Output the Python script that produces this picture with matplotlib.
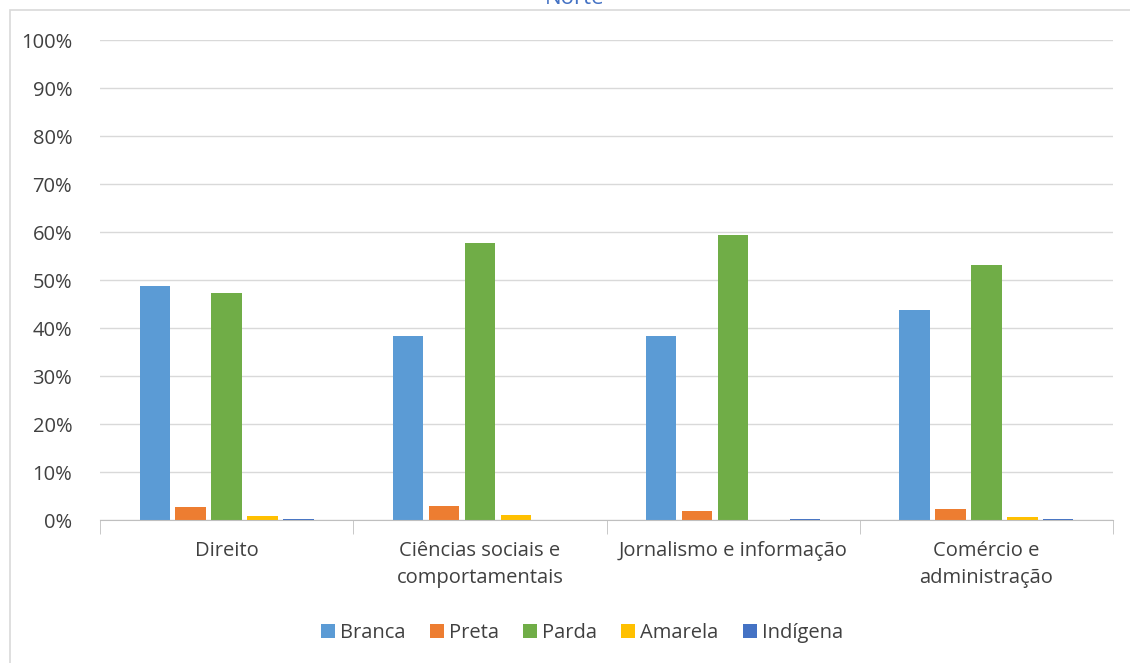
import numpy as np
import matplotlib.pyplot as plt
from matplotlib.patches import Rectangle
from matplotlib.ticker import FuncFormatter

plt.rcParams['font.family'] = ['Open Sans', 'DejaVu Sans']

categories = ['Direito', 'Ciências sociais e\ncomportamentais',
              'Jornalismo e informação', 'Comércio e\nadministração']
series = ['Branca', 'Preta', 'Parda', 'Amarela', 'Indígena']
branca = [48.8, 38.4, 38.4, 43.8]
preta = [2.8, 3.0, 1.9, 2.3]
parda = [47.2, 57.7, 59.4, 53.1]
amarela = [0.9, 1.0, 0.0, 0.6]
indigena = [0.3, 0.0, 0.3, 0.2]
colors = ['#5B9BD5', '#ED7D31', '#70AD47', '#FFC000', '#4472C4']

fig = plt.figure(figsize=(11.3, 6.63), dpi=100)
ax = fig.add_axes([100 / 1130, 1 - 520 / 663, 1013 / 1130, 480 / 663])

# outer chart frame (partly cut off by the image edges)
fig.patches.append(Rectangle((10 / 1130, -0.1), 1.2, 1 - 10 / 663 + 0.1,
                             transform=fig.transFigure, fill=False,
                             edgecolor='#d9d9d9', linewidth=1.2))

x = np.arange(len(categories))
width = 0.12
step = 0.142
for i, (name, vals) in enumerate(zip(series, [branca, preta, parda, amarela, indigena])):
    ax.bar(x + (i - 2) * step, vals, width, color=colors[i], label=name, zorder=3)

ax.set_xlim(-0.5, len(categories) - 0.5)
ax.set_ylim(0, 100)
ax.set_yticks(range(0, 101, 10))
ax.yaxis.set_major_formatter(FuncFormatter(lambda v, p: '%d%%' % v))
ax.grid(axis='y', color='#d9d9d9', linewidth=1, zorder=0)
for s in ['top', 'right', 'left']:
    ax.spines[s].set_visible(False)
ax.spines['bottom'].set_color('#bfbfbf')
ax.spines['bottom'].set_zorder(4)
ax.tick_params(axis='y', length=0, labelsize=14.5, labelcolor='#404040', pad=20)

ax.set_xticks(x)
ax.set_xticklabels(categories, fontsize=14.5, color='#404040', linespacing=1.45)
ax.tick_params(axis='x', length=0, pad=15)
ax.set_xticks(np.arange(-0.5, len(categories)), minor=True)
ax.tick_params(axis='x', which='minor', length=10, color='#bfbfbf')

# title sits mostly above the top edge, as in the original
fig.text(575 / 1130, 1 - 4 / 663, 'Norte', ha='center', va='baseline',
         fontsize=16, color='#4472C4')

ax.legend(loc='center', bbox_to_anchor=(582 / 1130, 1 - 633 / 663),
          bbox_transform=fig.transFigure, ncol=5, frameon=False,
          fontsize=14.5, labelcolor='#404040', handlelength=0.7,
          handleheight=0.7, handletextpad=0.25, columnspacing=1.2)

fig.savefig('out.png', dpi=100)
